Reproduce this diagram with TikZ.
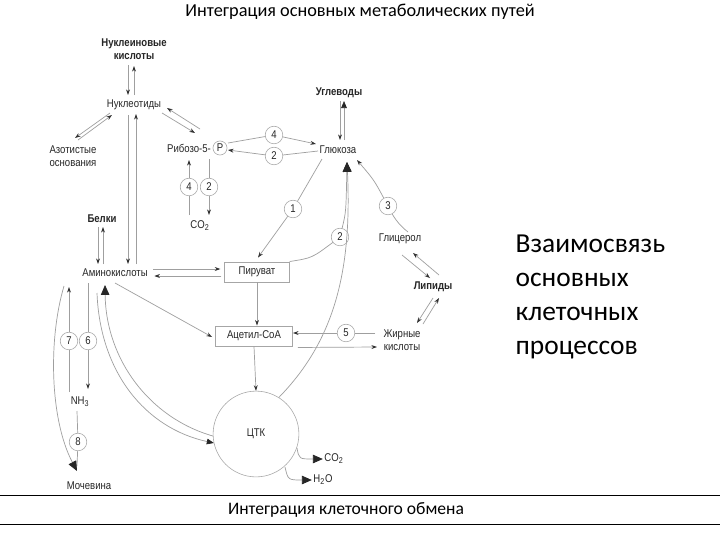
\documentclass[tikz,border=0pt]{standalone}
\usepackage{fontspec}
\setmainfont{Carlito}
\newfontfamily\narrowfont[FakeStretch=0.85]{Liberation Sans}
\usetikzlibrary{arrows.meta,calc}
\begin{document}
\begin{tikzpicture}[x=0.025cm, y=-0.025cm,
  every node/.style={font=\narrowfont\fontsize{8}{9.5}\selectfont, inner sep=1pt, text=black!85},
  hd/.style={font=\narrowfont\bfseries\fontsize{8}{9.5}\selectfont, align=center},
  num/.style={circle, draw=gray!70, minimum size=12.5pt, inner sep=0pt},
  stage/.style={draw=gray!70, minimum height=14.5pt},
  ln/.style={draw=gray!75, line width=0.5pt},
  arr/.style={ln, -{Stealth[length=4pt,width=2.8pt,color=black!80]}},
  midarr/.style={ln, -{Triangle[length=5pt,width=4pt,color=black!85]}},
  bigarr/.style={ln, -{Triangle[length=7pt,width=6pt,color=black!85]}}]
\fill[white] (0,0) rectangle (720,540);
\useasboundingbox (0,0) rectangle (720,540);
% titles
\node[font=\fontsize{13}{15}\selectfont, text=black] (title) at (360,12) {Интеграция основных метаболических путей};
\node[anchor=west, align=left, font=\fontsize{19.5}{24}\selectfont, text=black] (side) at (514,297) {Взаимосвязь\\основных\\клеточных\\процессов};
\draw[black, line width=0.8pt] (0,495.5) -- (720,495.5);
\draw[black, line width=0.8pt] (0,524.5) -- (720,524.5);
\node[font=\fontsize{12.5}{15}\selectfont, text=black] (foot) at (346,510) {Интеграция клеточного обмена};
% metabolites
\node[hd] (nucac) at (134,49) {Нуклеиновые\\кислоты};
\node (nucl) at (134,105) {Нуклеотиды};
\node[align=center] (azot) at (73,156) {Азотистые\\основания};
\node (ribose) at (189,148) {Рибозо-5-};
\node[num, minimum size=10pt] (pcirc) at (220,148) {P};
\node[num] (c4r) at (189,187) {4};
\node[num] (c2r) at (209,187) {2};
\node (co2a) at (200,226) {CO\textsubscript{2}};
\node[hd] (carb) at (339,93) {Углеводы};
\node (glc) at (338,150) {Глюкоза};
\node[num] (c4g) at (274,135) {4};
\node[num] (c2g) at (274,156) {2};
\node[num] (c1) at (293,209) {1};
\node[num] (c2p) at (340,237) {2};
\node[num] (c3) at (388,206) {3};
\node (glyc) at (400,239) {Глицерол};
\node[hd] (lip) at (433,287) {Липиды};
\node[align=center] (fa) at (402,340) {Жирные\\кислоты};
\node[num] (c5) at (346,333) {5};
\node[stage, minimum width=46pt] (pyr) at (257,272) {Пируват};
\node[stage, minimum width=55pt] (acoa) at (254,336) {Ацетил-CoA};
\node[circle, draw=gray!70, minimum size=61pt] (tca) at (256,434) {ЦТК};
\node (co2b) at (334,459) {CO\textsubscript{2}};
\node (h2o) at (323,480) {H\textsubscript{2}O};
\node[hd] (bel) at (102,219) {Белки};
\node (amino) at (115,273) {Аминокислоты};
\node[num] (c7) at (69,341) {7};
\node[num] (c6) at (88,341) {6};
\node (nh3) at (80,402) {NH\textsubscript{3}};
\node[num] (c8) at (78,442) {8};
\node (urea) at (89,486) {Мочевина};
% nucleotides
\draw[arr] ($(nucac)+(-6,16)$) -- ($(nucl)+(-6,-10)$);
\draw[arr] ($(nucl)+(0,-10)$) -- ($(nucac)+(0,17)$);
\draw[arr] ($(nucl)+(-24,8)$) -- ($(azot)+(2,-18)$);
\draw[arr] ($(azot)+(5,-16)$) -- ($(nucl)+(-22,10)$);
\draw[arr] ($(nucl)+(28,8)$) -- ($(ribose)+(6,-15)$);
\draw[arr] ($(ribose)+(11,-19)$) -- ($(nucl)+(33,3)$);
\draw[arr] ($(nucl)+(-6,10)$) -- ($(amino)+(13,-9)$);
\draw[arr] ($(amino)+(21,-9)$) -- ($(nucl)+(2,9)$);
% pentose path
\draw[arr] (c4r) -- ($(ribose)+(0,12)$);
\draw[ln] ($(co2a)+(-11,-11)$) -- (c4r);
\draw[ln] ($(ribose)+(20,11)$) -- (c2r);
\draw[arr] (c2r) -- ($(co2a)+(9,-11)$);
\draw[ln] ($(pcirc)+(8,-5)$) -- (c4g);
\draw[arr] (c4g) -- ($(glc)+(-22,-6)$);
\draw[ln] ($(glc)+(-20,1)$) -- (c2g);
\draw[arr] (c2g) -- ($(pcirc)+(8,2)$);
% glucose
\draw[arr] ($(carb)+(1,8)$) -- ($(glc)+(2,-10)$);
\draw[midarr] ($(glc)+(6,-10)$) -- ($(carb)+(5,8)$);
\draw[ln] ($(glc)+(-16,9)$) -- (c1);
\draw[arr] (c1) -- ($(pyr.north)+(1,-4)$);
\draw[ln] (pyr.north east) .. controls (312,258) .. (c2p);
\draw[bigarr] (c2p) .. controls (346,212) .. ($(glc)+(9,12)$);
\draw[bigarr] (tca.58) .. controls (335,340) and (352,270) .. ($(glc)+(9,12)$);
\draw[ln] ($(glyc)+(8,-7)$) to[bend left=10] (c3);
\draw[arr] (c3) .. controls (374,180) .. ($(glc)+(19,10)$);
% lipids
\draw[arr] ($(glyc)+(2,16)$) -- ($(lip)+(-3,-9)$);
\draw[arr] ($(lip)+(6,-12)$) -- ($(glyc)+(13,14)$);
\draw[arr] ($(lip)+(0,11)$) -- ($(fa)+(15,-17)$);
\draw[arr] ($(fa)+(21,-16)$) -- ($(lip)+(6,11)$);
\draw[ln] ($(fa)+(-27,-7)$) -- (c5);
\draw[arr] (c5) -- (acoa.east |- c5);
\draw[arr] ($(acoa.south east)+(5,1)$) -- ($(fa)+(-25,7)$);
% central path
\draw[arr] (pyr) -- (pyr |- acoa.north);
\draw[arr] (acoa.south) -- (tca.north);
\draw[bigarr] ($(tca)+(41,14)$) .. controls (299,459) .. (co2b.west);
\draw[bigarr] ($(tca)+(29,33)$) .. controls (288,480) .. (h2o.west);
% amino acids
\draw[arr] ($(bel)+(-4,8)$) -- ($(amino)+(-17,-9)$);
\draw[arr] ($(amino)+(-12,-9)$) -- ($(bel)+(1,8)$);
\draw[arr] ($(amino.east)+(4,-4)$) -- ($(pyr.west)+(-4,-3)$);
\draw[arr] ($(pyr.west)+(-3,4)$) -- ($(amino.east)+(5,3)$);
\draw[arr] ($(amino)+(0,10)$) -- ($(acoa.west)+(-3,1)$);
\draw[bigarr] ($(tca.west)+(0,2)$) .. controls (150,418) and (106,360) .. ($(amino)+(-10,12)$);
\draw[midarr] ($(amino)+(-18,20)$) .. controls (100,372) and (145,428) .. ($(tca.west)+(1,9)$);
% nitrogen
\draw[ln] ($(nh3)+(-11,-10)$) -- (c7);
\draw[arr] (c7) -- ($(amino)+(-46,14)$);
\draw[ln] ($(amino)+(-27,10)$) -- (c6);
\draw[arr] (c6) -- ($(nh3)+(8,-13)$);
\draw[ln] ($(nh3)+(-3,9)$) -- (c8);
\draw[ln] (c8) -- ($(urea)+(-12,-20)$);
\draw[bigarr] ($(amino)+(-51,13)$) .. controls (48,340) and (50,420) .. ($(urea)+(-12,-15)$);
\end{tikzpicture}
\end{document}
